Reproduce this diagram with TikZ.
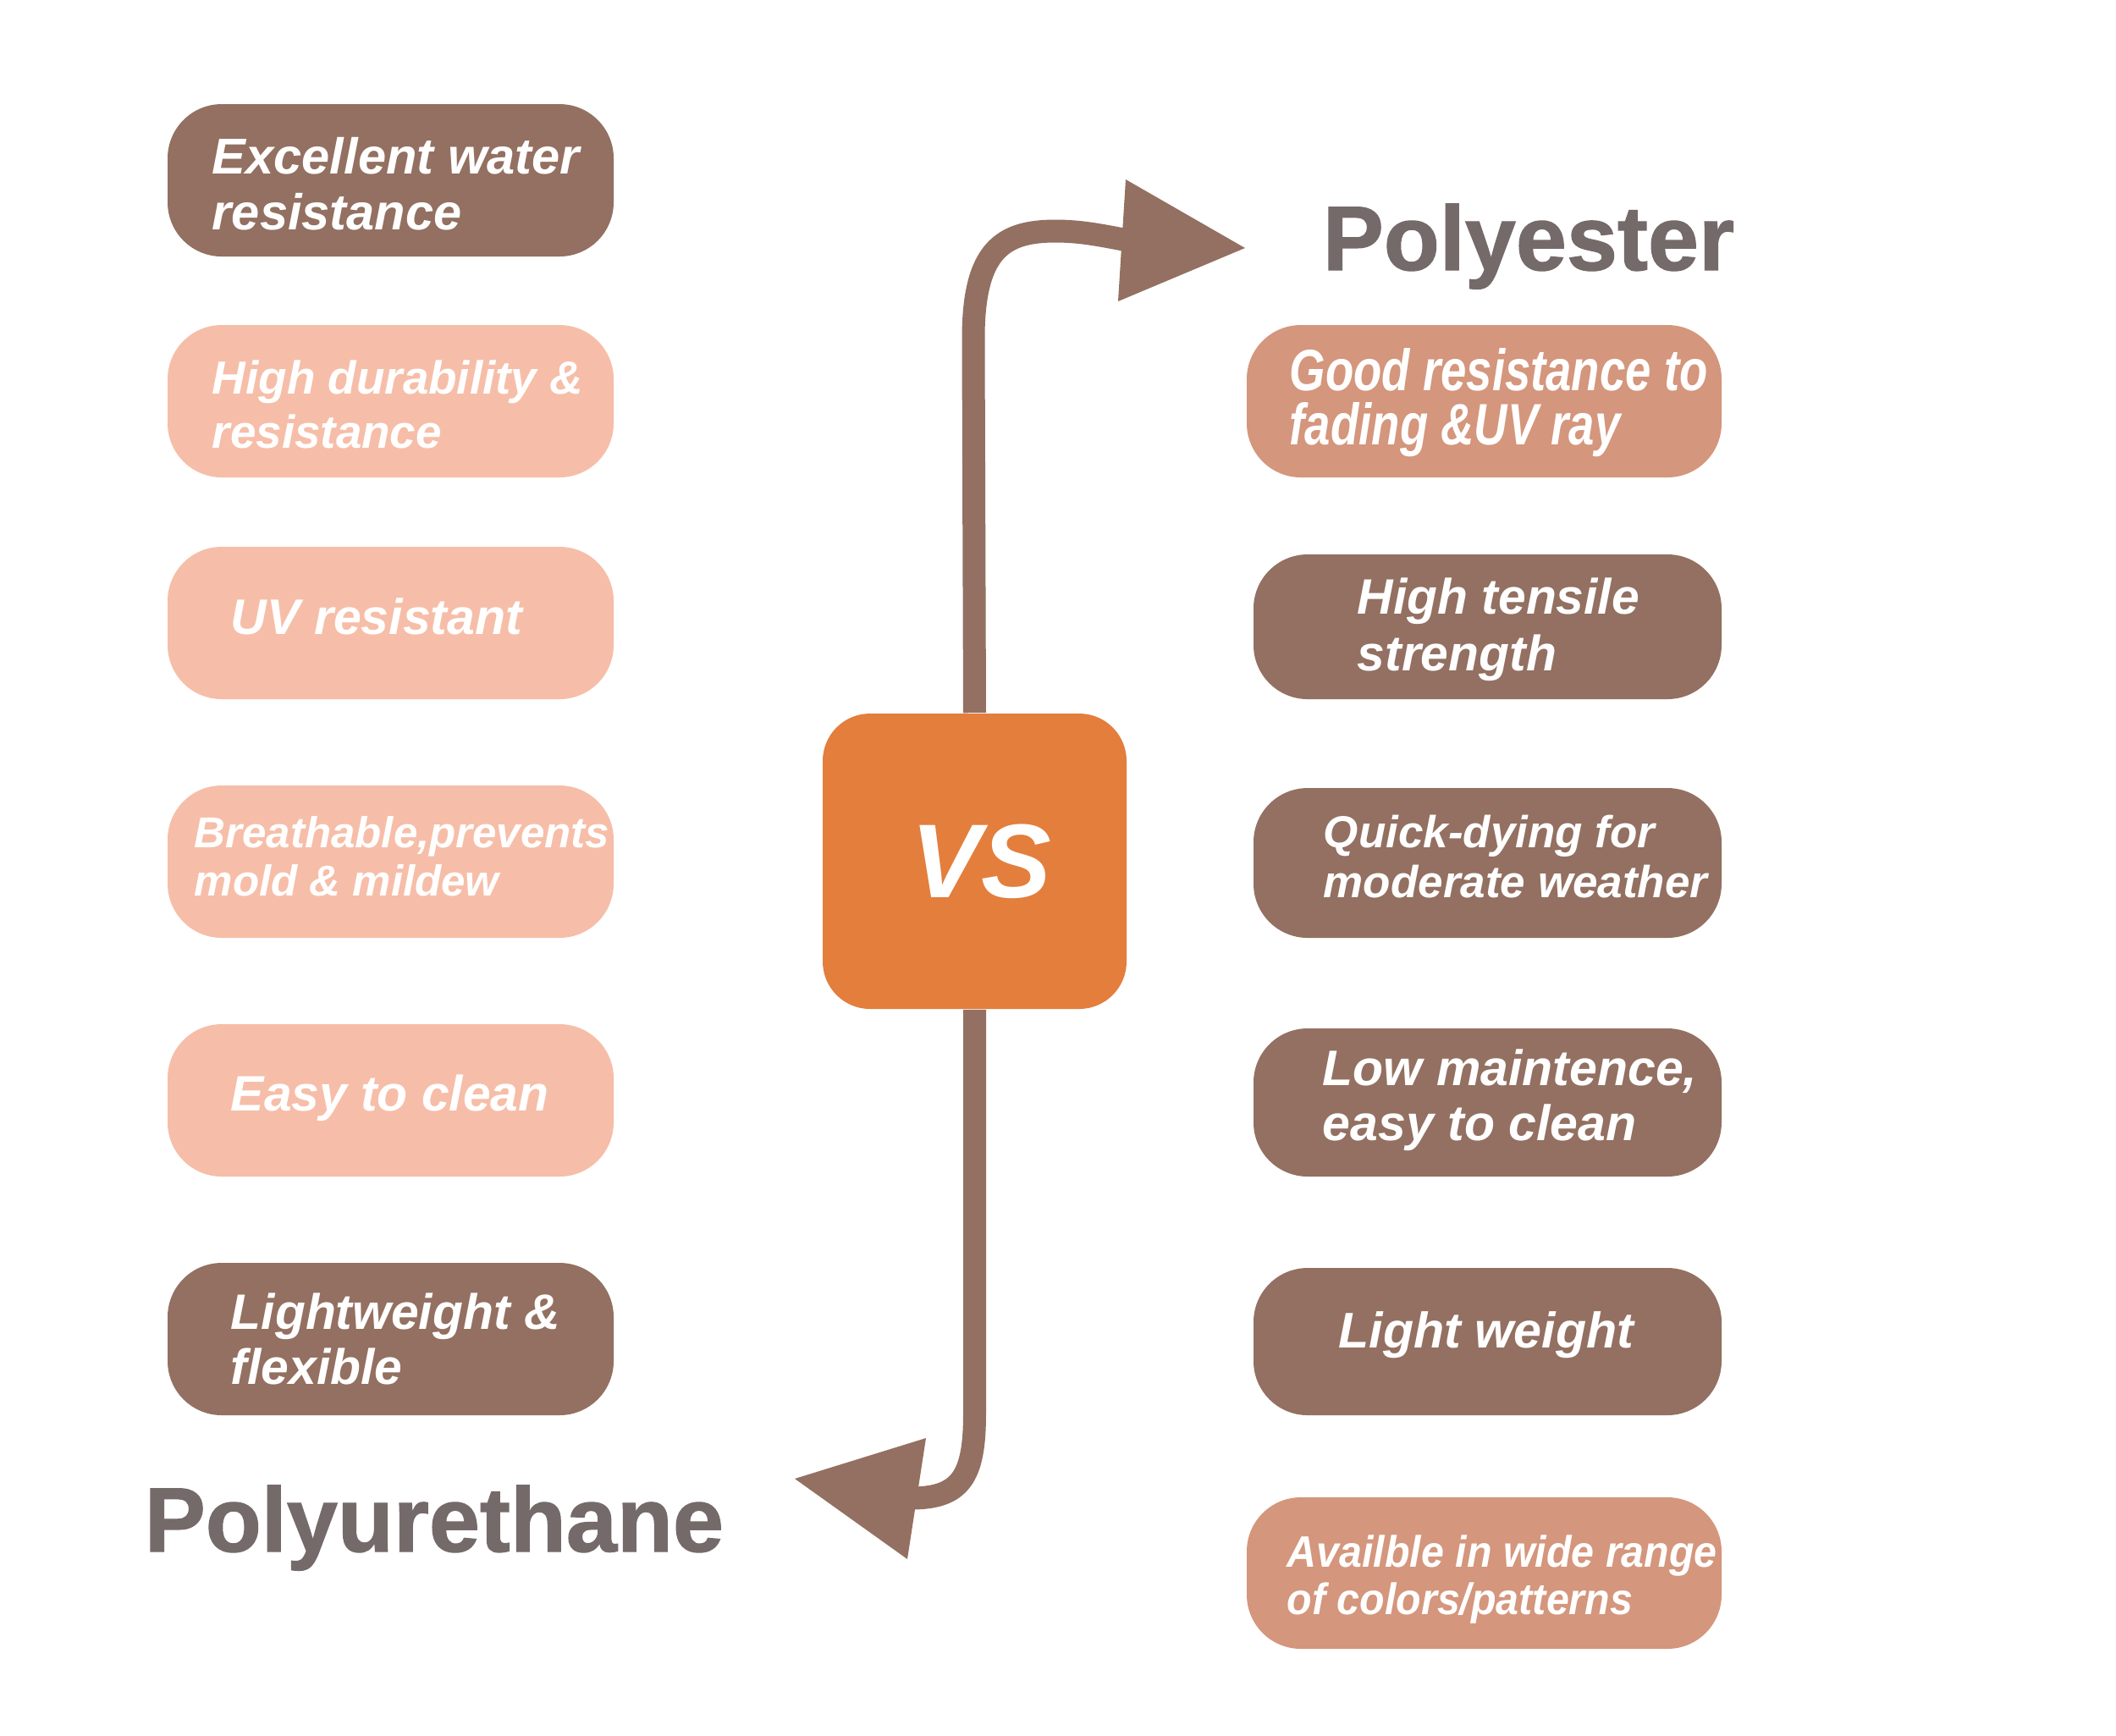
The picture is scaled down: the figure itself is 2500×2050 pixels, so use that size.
\documentclass[tikz,border=0pt]{standalone}
\usepackage{fontspec}
\setmainfont{Liberation Sans}
\newfontface\heavyface{Liberation Sans Bold}[FakeBold=1.2]
\definecolor{brn}{HTML}{937061}
\definecolor{pnk}{HTML}{F6BEA8}
\definecolor{sal}{HTML}{D4967C}
\definecolor{org}{HTML}{E37E3C}
\definecolor{ttl}{HTML}{756A6A}
\newcommand{\setfs}[2]{\fontsize{#1}{#2}\selectfont}
\tikzset{
  pill/.style={draw=none, rounded corners=16pt, inner sep=0pt, minimum height=45pt},
  lpill/.style={pill, minimum width=131.75pt},
  dk/.style={fill=brn},
  lt/.style={fill=pnk},
  md/.style={fill=sal},
  lbl/.style={anchor=west, inner sep=0pt, text=white, align=left},
  ttlstyle/.style={anchor=base west, inner sep=0pt, text=ttl, font=\heavyface\setfs{27pt}{30pt}},
  vsbox/.style={fill=org, draw=none, rounded corners=14pt, minimum width=89.75pt, minimum height=87.25pt, inner sep=0pt, text=white, font=\bfseries\itshape\setfs{31pt}{34pt}},
  shaft/.style={draw=brn, line width=6.75pt},
  headfill/.style={fill=brn, draw=none}
}
\begin{document}
\begin{tikzpicture}[x=0.25pt,y=-0.25pt]
\useasboundingbox (0,0) rectangle (2500,2050);
\fill[white] (0,0) rectangle (2500,2050);

% left column
\node[lpill,dk] (l1) at (461.5,213) {};
\node[lpill,lt] (l2) at (461.5,474) {};
\node[lpill,lt] (l3) at (461.5,736) {};
\node[lpill,lt] (l4) at (461.5,1018) {};
\node[lpill,lt] (l5) at (461.5,1300) {};
\node[lpill,dk] (l6) at (461.5,1582) {};

\node[lbl,font=\bfseries\itshape\setfs{14.9pt}{16.5pt}] (tl1) at (250,217) {Excellent water\\resistance};
\node[lbl,font=\bfseries\itshape\setfs{13.7pt}{16pt}] (tl2) at (250,478) {High durability \&\\resistance};
\node[lbl,font=\bfseries\itshape\setfs{14.75pt}{16pt}] (tl3) at (272,728) {UV resistant};
\node[lbl,font=\bfseries\itshape\setfs{12.75pt}{14.25pt}] (tl4) at (229,1012) {Breathable,prevents\\mold \& mildew};
\node[lbl,font=\bfseries\itshape\setfs{14.7pt}{16pt}] (tl5) at (272,1297) {Easy to clean};
\node[lbl,font=\bfseries\itshape\setfs{14.7pt}{16.25pt}] (tl6) at (272,1582) {Lightweight \&\\flexible};

% right column
\node[pill,md,minimum width=140.25pt,minimum height=45pt] (r1) at (1753.5,474) {};
\node[pill,dk,minimum width=138.25pt,minimum height=42.75pt] (r2) at (1757.5,740.5) {};
\node[pill,dk,minimum width=138.25pt,minimum height=44.25pt] (r3) at (1757.5,1019.5) {};
\node[pill,dk,minimum width=138.25pt,minimum height=43.75pt] (r4) at (1757.5,1302.5) {};
\node[pill,dk,minimum width=138.25pt,minimum height=43.5pt] (r5) at (1757.5,1585) {};
\node[pill,md,minimum width=140.25pt,minimum height=44.75pt] (r6) at (1753.5,1858.5) {};

\node[lbl,font=\bfseries\itshape\setfs{17.25pt}{16pt}] (tr1) at (1523,476) {\scalebox{0.79}[1]{Good resistance to}\\\scalebox{0.79}[1]{fading \&UV ray}};
\node[lbl,font=\bfseries\itshape\setfs{14.7pt}{16.75pt}] (tr2) at (1603,744) {High tensile\\strength};
\node[lbl,font=\bfseries\itshape\setfs{13.25pt}{14.75pt}] (tr3) at (1563,1012) {Quick-dying for\\moderate weather};
\node[lbl,font=\bfseries\itshape\setfs{14.75pt}{16.25pt}] (tr4) at (1562,1300) {Low maintence,\\easy to clean};
\node[lbl,font=\bfseries\itshape\setfs{14.8pt}{16pt}] (tr5) at (1581,1577) {Light weight};
\node[lbl,font=\bfseries\itshape\setfs{13pt}{14pt}] (tr6) at (1520,1866) {\scalebox{0.93}[1]{Availble in wide range}\\\scalebox{0.93}[1]{of colors/patterns}};

% titles
\node[ttlstyle] (poly1) at (1562,319) {Polyester};
\node[ttlstyle] (poly2) at (170,1833) {Polyurethane};

% arrows
\coordinate (ha1) at (1330,212);
\coordinate (ht1) at (1471,293);
\coordinate (hb1) at (1321,356);
\coordinate (he1) at (1338,285);
\coordinate (ha2) at (1094,1699);
\coordinate (ht2) at (939,1747);
\coordinate (hb2) at (1072,1842);
\coordinate (he2) at (1076,1770);

\node[vsbox] (vs) at (1151.5,1017.5) {\hspace*{4pt}VS};

\draw[shaft] (vs.north) -- (1150,400) .. controls (1150,295) and (1185,273) .. (1247,273) .. controls (1280,273) and (1305,279) .. (he1);
\fill[headfill] (ha1) -- (ht1) -- (hb1) -- cycle;

\draw[shaft] (vs.south) -- (1151.5,1670) .. controls (1151.5,1745) and (1135,1770) .. (he2);
\fill[headfill] (ha2) -- (ht2) -- (hb2) -- cycle;
\end{tikzpicture}
\end{document}
